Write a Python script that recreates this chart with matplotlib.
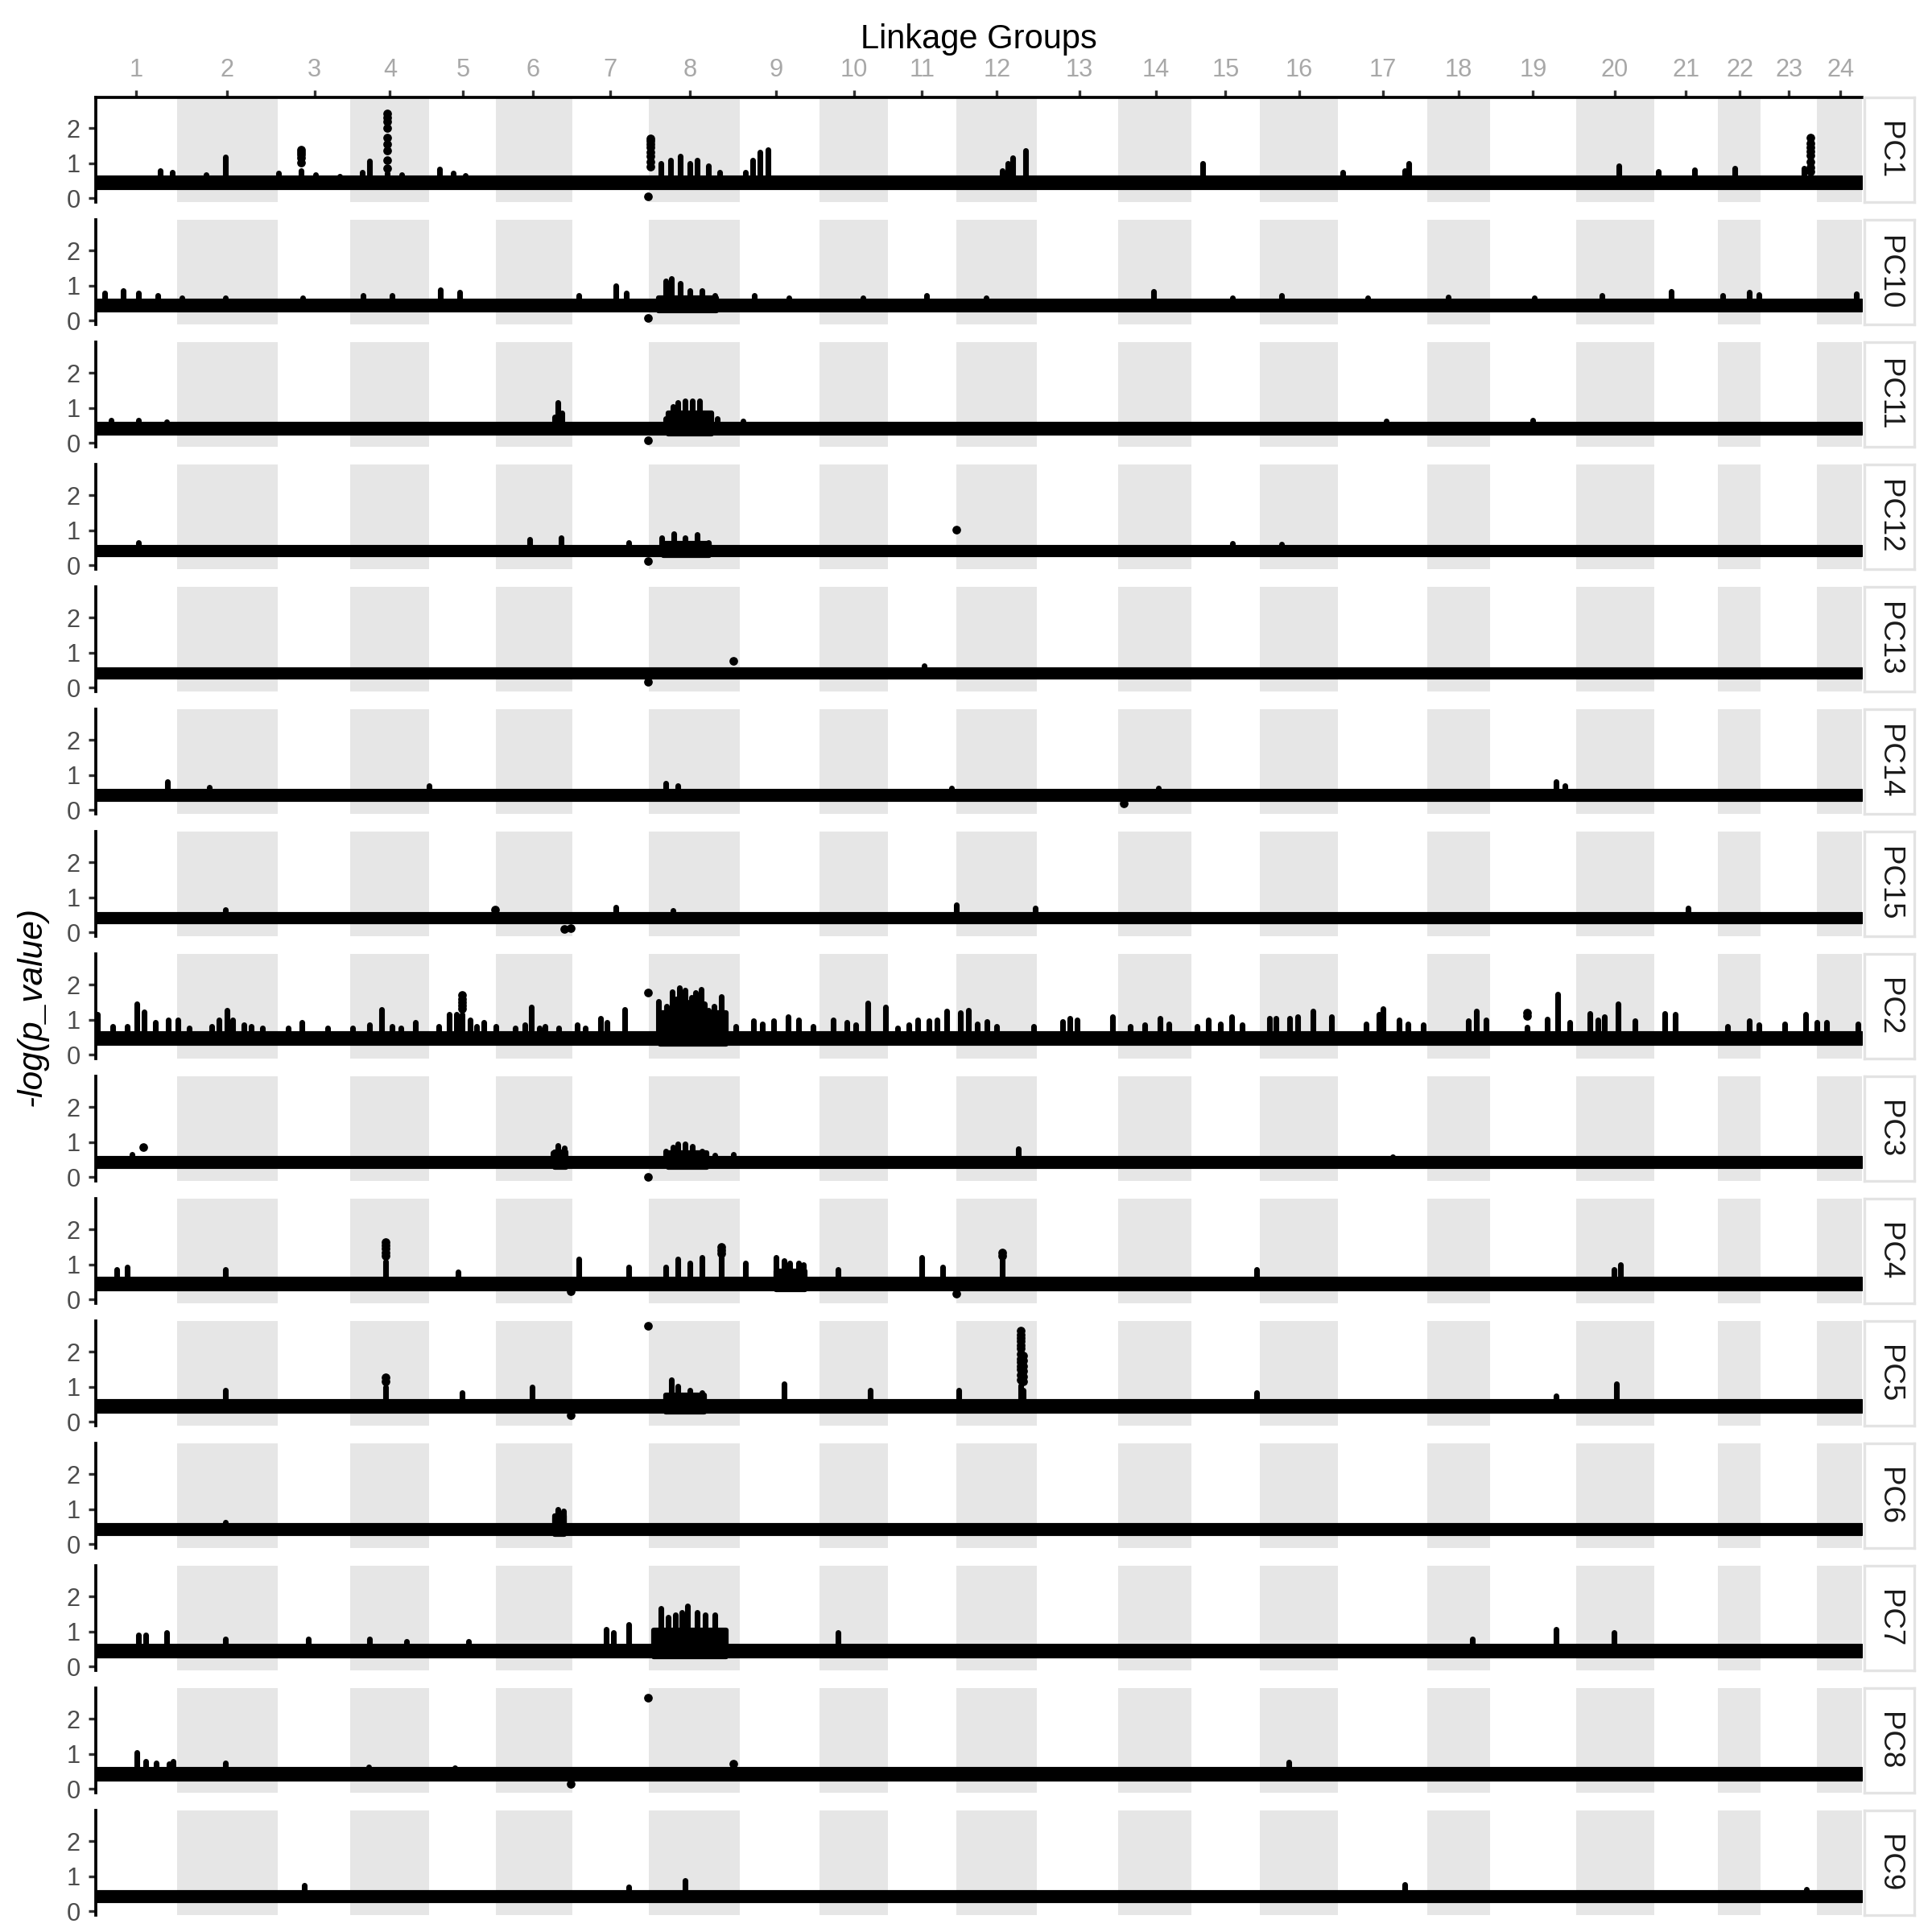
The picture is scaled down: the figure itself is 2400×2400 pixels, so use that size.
import matplotlib
matplotlib.use("Agg")
import matplotlib.pyplot as plt
import numpy as np

plt.rcParams['font.family'] = ['Liberation Sans', 'DejaVu Sans']

# ---------------- data ----------------
lg_names = [str(i) for i in range(1, 25)]
lg_lengths_mb = [33.7, 41.5, 30.2, 32.6, 27.8, 31.4, 31.7, 37.6, 33.1, 28.5, 28.1, 33.5,
                 33.7, 30.2, 28.4, 32.2, 37.1, 25.9, 35.6, 32.4, 26.3, 17.7, 23.3, 18.7]
# label position of each linkage group on the cumulative axis (Mb)
lg_tick_mb = [16.7, 54.2, 90.5, 121.8, 151.9, 181.0, 212.8, 246.1, 281.7, 313.8, 342.0, 373.0,
              407.3, 439.0, 467.7, 498.1, 532.8, 564.2, 595.0, 628.8, 658.3, 680.7, 701.0, 722.3]

facets = ['PC1', 'PC10', 'PC11', 'PC12', 'PC13', 'PC14', 'PC15', 'PC2',
          'PC3', 'PC4', 'PC5', 'PC6', 'PC7', 'PC8', 'PC9']

# bulk of SNPs: lower / upper edge of the dense band of -log(p)
band_low = [0.28, 0.28, 0.27, 0.29, 0.28, 0.29, 0.28, 0.30, 0.28, 0.29, 0.29, 0.28, 0.29, 0.27, 0.28]
band_high = [0.60, 0.58, 0.56, 0.55, 0.54, 0.56, 0.55, 0.62, 0.56, 0.60, 0.60, 0.56, 0.60, 0.58, 0.56]

# peaks: genome position (cumulative Mb) and top -log(p)
pc1_pos = [26.6, 31.5, 45.5, 53.8, 75.7, 85.0, 91.0, 100.9, 110.3, 113.2, 120.6, 126.6, 142.2, 148.1,
           153.0, 233.8, 237.9, 242.0, 246.0, 249.1, 253.7, 258.3, 269.0, 272.1, 275.1, 278.2, 375.1,
           377.7, 379.7, 384.8, 458.3, 516.4, 542.0, 543.5, 630.7, 646.8, 662.0, 678.7, 707.2]
pc1_val = [0.79, 0.75, 0.68, 1.19, 0.72, 0.79, 0.68, 0.64, 0.75, 1.06, 0.72, 0.68, 0.83, 0.73,
           0.66, 1.0, 1.1, 1.2, 1.0, 1.1, 0.92, 0.75, 0.75, 1.1, 1.33, 1.4, 0.8,
           1.0, 1.17, 1.37, 1.0, 0.75, 0.8, 1.0, 0.93, 0.78, 0.82, 0.87, 0.87]
pc1_dot_pos = [85.0, 85.0, 85.0, 85.0, 85.0,
               120.6, 120.6, 120.6, 120.6, 120.6, 120.6, 120.6, 120.6, 120.6,
               229.7, 229.7, 229.7, 229.7, 229.7, 229.7, 229.7, 229.7, 228.7,
               709.8, 709.8, 709.8, 709.8, 709.8, 709.8, 709.8, 709.8]
pc1_dot_val = [1.40, 1.32, 1.25, 1.17, 1.02,
               2.42, 2.30, 2.19, 2.0, 1.74, 1.55, 1.36, 1.09, 0.87,
               1.72, 1.65, 1.55, 1.45, 1.33, 1.2, 1.05, 0.9, 0.05,
               1.73, 1.58, 1.46, 1.35, 1.23, 1.05, 0.89, 0.78]
pc1_blocks = []

pc10_pos = [3.7, 11.4, 17.5, 25.6, 35.8, 53.7, 85.8, 110.8, 122.6, 142.5, 150.6, 200.1, 215.4, 219.5,
            235.8, 238.4, 242.0, 246.0, 251.1, 256.2, 272.6, 286.9, 317.5, 344.0, 368.5, 437.9,
            470.5, 491.0, 526.6, 559.8, 595.5, 623.6, 652.3, 673.6, 684.6, 688.7, 729.0]
pc10_val = [0.79, 0.86, 0.79, 0.72, 0.65, 0.65, 0.65, 0.72, 0.72, 0.89, 0.82, 0.72, 1.0, 0.79,
            1.13, 1.2, 1.06, 0.86, 0.86, 0.72, 0.72, 0.65, 0.65, 0.72, 0.65, 0.83,
            0.65, 0.72, 0.65, 0.68, 0.65, 0.72, 0.83, 0.72, 0.81, 0.75, 0.77]
pc10_dot_pos = [228.7]
pc10_dot_val = [0.08]
pc10_blocks = [(233.0, 257.0, 0.66)]

pc11_pos = [6.2, 17.5, 29.2, 189.9, 191.4, 193.0, 235.8, 238.9, 241.0, 244.0, 247.1, 250.1,
            253.7, 257.3, 268.0, 534.3, 595.0]
pc11_val = [0.66, 0.66, 0.6, 0.75, 1.15, 0.86, 0.7, 1.04, 1.15, 1.2, 1.2, 1.2,
            0.86, 0.7, 0.62, 0.62, 0.65]
pc11_dot_pos = [228.7]
pc11_dot_val = [0.09]
pc11_blocks = [(237.0, 255.0, 0.85)]

pc12_pos = [17.5, 179.7, 192.5, 220.5, 234.3, 239.4, 244.0, 249.1, 253.7, 470.5, 491.0]
pc12_val = [0.66, 0.74, 0.8, 0.66, 0.8, 0.9, 0.8, 0.88, 0.66, 0.63, 0.6]
pc12_dot_pos = [228.7, 356.2]
pc12_dot_val = [0.13, 1.02]
pc12_blocks = [(235.0, 254.0, 0.64)]

pc13_pos = [343.0]
pc13_val = [0.64]
pc13_dot_pos = [263.9, 228.7]
pc13_dot_val = [0.78, 0.18]
pc13_blocks = []

pc14_pos = [29.7, 47.1, 137.9, 235.8, 240.9, 354.2, 439.9, 604.7, 608.3]
pc14_val = [0.82, 0.65, 0.69, 0.76, 0.69, 0.62, 0.62, 0.82, 0.69]
pc14_dot_pos = [425.6]
pc14_dot_val = [0.2]
pc14_blocks = []

pc15_pos = [53.7, 215.4, 238.9, 356.2, 388.9, 659.3]
pc15_val = [0.66, 0.73, 0.62, 0.8, 0.7, 0.7]
pc15_dot_pos = [165.4, 194.0, 196.6]
pc15_dot_val = [0.66, 0.1, 0.12]
pc15_blocks = []

pc2_pos = [0.7, 7.0, 12.9, 17.1, 19.9, 24.6, 29.9, 33.9, 38.6, 47.9,
           51.0, 54.3, 56.6, 61.3, 64.3, 69.0, 79.5, 85.4, 95.9, 106.4,
           113.4, 118.3, 122.8, 126.3, 132.4, 141.9, 146.2, 149.2, 151.5, 155.0,
           157.8, 160.6, 165.6, 173.5, 177.7, 180.3, 183.6, 185.9, 191.7, 199.2,
           202.5, 208.8, 211.6, 219.1, 233.1, 236.2, 238.5, 240.4, 241.6, 243.9,
           245.1, 246.7, 248.3, 250.7, 252.1, 253.7, 256.1, 257.2, 258.9, 264.9,
           272.4, 275.9, 280.6, 286.5, 291.1, 297.0, 305.2, 311.0, 314.5, 319.7,
           326.9, 332.1, 336.7, 340.2, 344.9, 348.4, 352.4, 357.8, 361.3, 364.8,
           368.9, 372.9, 388.1, 400.2, 403.3, 406.3, 420.8, 428.3, 434.3, 440.7,
           444.2, 455.9, 460.5, 465.7, 470.4, 474.6, 485.8, 488.6, 494.4, 497.5,
           503.8, 511.5, 526.0, 531.2, 533.0, 539.6, 543.1, 549.4, 568.1, 571.4,
           575.6, 592.7, 600.8, 605.1, 610.2, 618.4, 621.9, 624.7, 630.1, 637.1,
           649.5, 653.9, 675.7, 684.5, 688.5, 699.1, 707.9, 712.6, 716.6, 729.5]
pc2_val = [1.16, 0.82, 0.82, 1.47, 1.24, 0.93, 1.0, 1.0, 0.78, 0.82,
           1.0, 1.27, 1.0, 0.85, 0.82, 0.78, 0.78, 0.93, 0.78, 0.78,
           0.85, 1.3, 0.82, 0.78, 0.93, 0.82, 1.16, 1.16, 1.16, 1.0,
           0.82, 0.93, 0.82, 0.78, 0.85, 1.37, 0.78, 0.82, 0.78, 0.85,
           0.78, 1.05, 0.93, 1.3, 1.52, 1.4, 1.81, 1.6, 1.91, 1.86,
           1.5, 1.65, 1.77, 1.87, 1.45, 1.27, 1.38, 1.2, 1.67, 0.82,
           0.97, 0.89, 0.97, 1.08, 1.0, 0.82, 1.0, 0.93, 0.85, 1.48,
           1.37, 0.78, 0.85, 1.0, 0.97, 1.0, 1.25, 1.2, 1.28, 0.89,
           0.95, 0.82, 0.82, 0.95, 1.05, 1.0, 1.08, 0.82, 0.85, 1.05,
           0.89, 0.82, 1.0, 0.89, 1.08, 0.85, 1.05, 1.05, 1.05, 1.1,
           1.25, 1.1, 0.89, 1.16, 1.31, 1.0, 0.89, 0.85, 0.97, 1.25,
           1.0, 0.8, 1.02, 1.74, 0.93, 1.18, 1.0, 1.08, 1.47, 0.97,
           1.18, 1.15, 0.82, 0.97, 0.87, 0.89, 1.16, 0.93, 0.93, 0.89]
pc2_dot_pos = [151.5, 151.5, 151.5, 151.5, 151.5, 228.5, 592.7, 592.7]
pc2_dot_val = [1.7, 1.6, 1.5, 1.42, 1.33, 1.78, 1.2, 1.12]
pc2_blocks = [(233.5, 261.0, 1.2)]

pc3_pos = [14.9, 189.4, 191.4, 194.0, 235.8, 238.9, 241.0, 244.0, 247.1, 251.1, 256.2, 263.9,
           381.8, 536.9]
pc3_val = [0.65, 0.7, 0.9, 0.83, 0.75, 0.85, 0.96, 0.96, 0.89, 0.75, 0.62, 0.65,
           0.82, 0.58]
pc3_dot_pos = [19.5, 228.7]
pc3_dot_val = [0.86, 0.02]
pc3_blocks = [(237.0, 253.0, 0.7), (190.0, 194.5, 0.72)]

pc4_pos = [8.8, 12.9, 53.7, 120.0, 150.1, 200.1, 220.5, 235.8, 240.9, 246.0, 251.1, 258.8, 269.0,
           281.7, 284.8, 287.4, 291.0, 293.0, 307.3, 342.0, 350.6, 375.1, 480.7, 628.7, 631.2]
pc4_val = [0.87, 0.93, 0.87, 1.1, 0.8, 1.15, 0.94, 0.94, 1.15, 1.04, 1.2, 1.2, 1.04,
           1.2, 1.12, 1.05, 1.04, 1.0, 0.87, 1.2, 0.94, 1.15, 0.87, 0.87, 1.0]
pc4_dot_pos = [120.0, 120.0, 120.0, 120.0, 120.0, 258.8, 258.8, 258.8, 375.1, 375.1, 196.6, 356.2]
pc4_dot_val = [1.64, 1.55, 1.45, 1.35, 1.25, 1.5, 1.42, 1.32, 1.35, 1.25, 0.23, 0.17]
pc4_blocks = [(281.5, 293.5, 0.82)]

pc5_pos = [53.7, 120.0, 151.7, 180.7, 238.4, 241.0, 246.0, 251.1, 284.8, 320.5, 357.3, 382.8,
           383.8, 480.7, 604.7, 629.7]
pc5_val = [0.9, 1.0, 0.84, 1.0, 1.2, 1.02, 0.91, 0.84, 1.1, 0.91, 0.91, 1.05,
           0.9, 0.84, 0.74, 1.1]
pc5_dot_pos = [120.0, 120.0, 228.7, 196.6,
               382.8, 382.8, 382.8, 382.8, 382.8, 382.8, 382.8, 382.8, 382.8, 382.8, 382.8,
               382.8, 382.8,
               383.8, 383.8, 383.8, 383.8, 383.8, 383.8]
pc5_dot_val = [1.27, 1.15, 2.74, 0.2,
               2.6, 2.5, 2.4, 2.3, 2.2, 2.1, 1.95, 1.8, 1.7, 1.6, 1.5, 1.35, 1.2,
               1.9, 1.75, 1.6, 1.45, 1.3, 1.15]
pc5_blocks = [(236.0, 252.0, 0.76)]

pc6_pos = [53.7, 189.9, 191.4, 193.5, 225.6, 679.7]
pc6_val = [0.64, 0.75, 1.0, 0.95, 0.55, 0.55]
pc6_dot_pos = []
pc6_dot_val = []
pc6_blocks = [(190.0, 194.0, 0.82)]

pc7_pos = [17.5, 20.5, 29.2, 53.7, 87.9, 113.4, 128.7, 154.2, 211.3, 214.4, 220.5, 233.8,
           236.9, 239.9, 242.5, 245.0, 249.1, 252.2, 256.2, 307.3, 570.0, 604.7, 628.7]
pc7_val = [0.9, 0.9, 0.97, 0.79, 0.79, 0.79, 0.72, 0.72, 1.07, 0.97, 1.2, 1.67,
           1.42, 1.49, 1.56, 1.74, 1.56, 1.49, 1.48, 0.97, 0.79, 1.07, 0.97]
pc7_dot_pos = []
pc7_dot_val = []
pc7_blocks = [(231.0, 261.0, 1.05)]

pc8_pos = [16.9, 20.6, 25.1, 30.3, 32.1, 53.8, 112.9, 148.6, 494.0, 679.7]
pc8_val = [1.04, 0.79, 0.75, 0.72, 0.8, 0.75, 0.62, 0.6, 0.77, 0.55]
pc8_dot_pos = [228.7, 196.6, 263.9]
pc8_dot_val = [2.6, 0.15, 0.73]
pc8_blocks = []

pc9_pos = [86.4, 220.5, 244.0, 542.0, 708.3]
pc9_val = [0.74, 0.7, 0.88, 0.78, 0.63]
pc9_dot_pos = []
pc9_dot_val = []
pc9_blocks = []

peaks = {
    'PC1': (pc1_pos, pc1_val, pc1_dot_pos, pc1_dot_val, pc1_blocks),
    'PC10': (pc10_pos, pc10_val, pc10_dot_pos, pc10_dot_val, pc10_blocks),
    'PC11': (pc11_pos, pc11_val, pc11_dot_pos, pc11_dot_val, pc11_blocks),
    'PC12': (pc12_pos, pc12_val, pc12_dot_pos, pc12_dot_val, pc12_blocks),
    'PC13': (pc13_pos, pc13_val, pc13_dot_pos, pc13_dot_val, pc13_blocks),
    'PC14': (pc14_pos, pc14_val, pc14_dot_pos, pc14_dot_val, pc14_blocks),
    'PC15': (pc15_pos, pc15_val, pc15_dot_pos, pc15_dot_val, pc15_blocks),
    'PC2': (pc2_pos, pc2_val, pc2_dot_pos, pc2_dot_val, pc2_blocks),
    'PC3': (pc3_pos, pc3_val, pc3_dot_pos, pc3_dot_val, pc3_blocks),
    'PC4': (pc4_pos, pc4_val, pc4_dot_pos, pc4_dot_val, pc4_blocks),
    'PC5': (pc5_pos, pc5_val, pc5_dot_pos, pc5_dot_val, pc5_blocks),
    'PC6': (pc6_pos, pc6_val, pc6_dot_pos, pc6_dot_val, pc6_blocks),
    'PC7': (pc7_pos, pc7_val, pc7_dot_pos, pc7_dot_val, pc7_blocks),
    'PC8': (pc8_pos, pc8_val, pc8_dot_pos, pc8_dot_val, pc8_blocks),
    'PC9': (pc9_pos, pc9_val, pc9_dot_pos, pc9_dot_val, pc9_blocks),
}

# ---------------- layout ----------------
W = H = 2400.0
fig = plt.figure(figsize=(8, 8), dpi=300)

starts = np.concatenate([[0.0], np.cumsum(lg_lengths_mb)[:-1]])
ends = np.cumsum(lg_lengths_mb)
total = ends[-1]

left_px, right_px = 119.0, 2313.0
top0_px, panel_h, step = 121.0, 130.4, 152.0
ylim = (-0.113, 2.883)

dot_lw = 1.7     # points
dot_s = 6.6      # points^2
shade = '#E6E6E6'

for i, name in enumerate(facets):
    top_px = top0_px + i * step
    y0 = 1 - (top_px + panel_h) / H
    ax = fig.add_axes([left_px / W, y0, (right_px - left_px) / W, panel_h / H])
    ax.set_xlim(0, total)
    ax.set_ylim(*ylim)

    for k in range(1, 24, 2):
        ax.axvspan(starts[k], ends[k], color=shade, lw=0, zorder=0)

    lo, hi = band_low[i], band_high[i]
    ax.fill_between([0, total], [lo, lo], [hi, hi], color='black', lw=1.0, zorder=2)

    pos, val, dpos, dval, blocks = peaks[name]
    for (s, e, t) in blocks:
        ax.fill_between([s, e], [lo, lo], [t, t], color='black', lw=1.5, zorder=2)
    mid = (lo + hi) / 2.0
    if pos:
        lc = ax.vlines(pos, mid, val, colors='black', lw=dot_lw, zorder=3)
        lc.set_capstyle('round')
    if dpos:
        ax.scatter(dpos, dval, s=dot_s, c='black', lw=0, zorder=4)

    for sp in ['right', 'bottom']:
        ax.spines[sp].set_visible(False)
    ax.spines['left'].set_linewidth(0.9)
    ax.spines['left'].set_color('black')
    ax.set_yticks([0, 1, 2])
    ax.tick_params(axis='y', length=2.2, width=0.8, color='#333333',
                   labelcolor='#4D4D4D', labelsize=7.4, pad=2.4)
    if i == 0:
        ax.spines['top'].set_linewidth(0.9)
        ax.spines['top'].set_color('black')
        ax.xaxis.set_ticks_position('top')
        ax.set_xticks(lg_tick_mb)
        ax.set_xticklabels(lg_names)
        ax.tick_params(axis='x', top=True, bottom=False, labeltop=True, labelbottom=False,
                       length=2.2, width=0.8, color='#333333', labelcolor='#A8A8A8',
                       labelsize=7.4, pad=2.4)
    else:
        ax.spines['top'].set_visible(False)
        ax.set_xticks([])

    # strip
    sax = fig.add_axes([2316 / W, y0, 62 / W, panel_h / H])
    sax.set_xticks([])
    sax.set_yticks([])
    for sp in sax.spines.values():
        sp.set_color('#E3E3E3')
        sp.set_linewidth(0.8)
    sax.text(0.5, 0.5, name, rotation=-90, ha='center', va='center',
             fontsize=8.8, color='#1A1A1A', transform=sax.transAxes)

fig.text((left_px + right_px) / 2 / W, 1 - 49 / H, 'Linkage Groups', ha='center', va='center',
         fontsize=10, color='black')
fig.text(40 / W, 1 - 1250 / H, '-log(p_value)', rotation=90, ha='center', va='center',
         fontsize=10.2, style='italic', color='black')

fig.savefig('out.png', dpi=300, facecolor='white')
